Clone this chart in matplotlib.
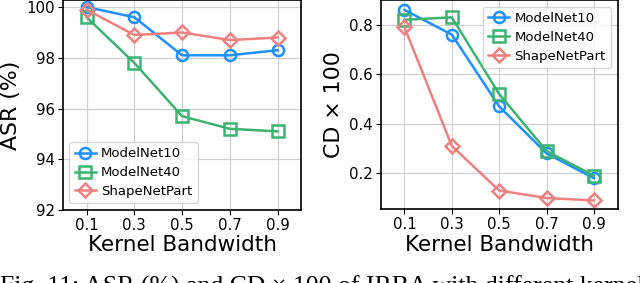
import matplotlib
matplotlib.use("Agg")
import matplotlib.pyplot as plt

bandwidth = [0.1, 0.3, 0.5, 0.7, 0.9]
xticks = ["0.1", "0.3", "0.5", "0.7", "0.9"]
series = ["ModelNet10", "ModelNet40", "ShapeNetPart"]

asr_mn10 = [100.0, 99.6, 98.1, 98.1, 98.3]
asr_mn40 = [99.6, 97.8, 95.7, 95.2, 95.1]
asr_snp = [99.9, 98.9, 99.0, 98.7, 98.8]

cd_mn10 = [0.86, 0.76, 0.47, 0.28, 0.18]
cd_mn40 = [0.82, 0.83, 0.52, 0.29, 0.19]
cd_snp = [0.79, 0.31, 0.13, 0.10, 0.09]

colors = ["#1E90FF", "#3CB371", "#F08080"]
markers = ["o", "s", "D"]

fig = plt.figure(figsize=(6.4, 2.83), dpi=100)
ax1 = fig.add_axes([0.098, 0.258, 0.373, 0.742])
ax2 = fig.add_axes([0.595, 0.261, 0.370, 0.739])

def draw(ax, data, legend_loc):
    for vals, name, c, m in zip(data, series, colors, markers):
        ax.plot(bandwidth, vals, color=c, marker=m, markersize=8 if m != "D" else 7.5,
                markerfacecolor="none", markeredgewidth=1.8, linewidth=1.8, label=name)
    ax.set_xticks(bandwidth)
    ax.set_xticklabels(xticks)
    ax.set_xlim(0.0, 1.0)
    ax.grid(True, color="#d0d0d0", linewidth=0.9)
    ax.set_axisbelow(True)
    ax.tick_params(labelsize=10.8, length=3.5, pad=2)
    ax.set_xlabel("Kernel Bandwidth", fontsize=15.5, labelpad=2)
    for s in ax.spines.values():
        s.set_linewidth(1.2)
    ax.legend(loc=legend_loc, fontsize=9.5, handlelength=1.6, labelspacing=0.45,
              borderpad=0.4, handletextpad=0.4)

draw(ax1, [asr_mn10, asr_mn40, asr_snp], "lower left")
ax1.set_ylim(92, 100.28)
ax1.set_yticks([92, 94, 96, 98, 100])
ax1.set_ylabel("ASR (%)", fontsize=15.8, labelpad=4)

draw(ax2, [cd_mn10, cd_mn40, cd_snp], "upper right")
ax2.set_ylim(0.055, 0.9)
ax2.set_yticks([0.2, 0.4, 0.6, 0.8])
ax2.set_ylabel("CD × 100", fontsize=15.8, labelpad=4)

fig.text(0.0, -0.039, "Fig. 11: ASR (%) and CD × 100 of IRBA with different kernel",
         family="Liberation Serif", fontsize=18.5, va="baseline", ha="left")

fig.savefig("out.png", dpi=100)
